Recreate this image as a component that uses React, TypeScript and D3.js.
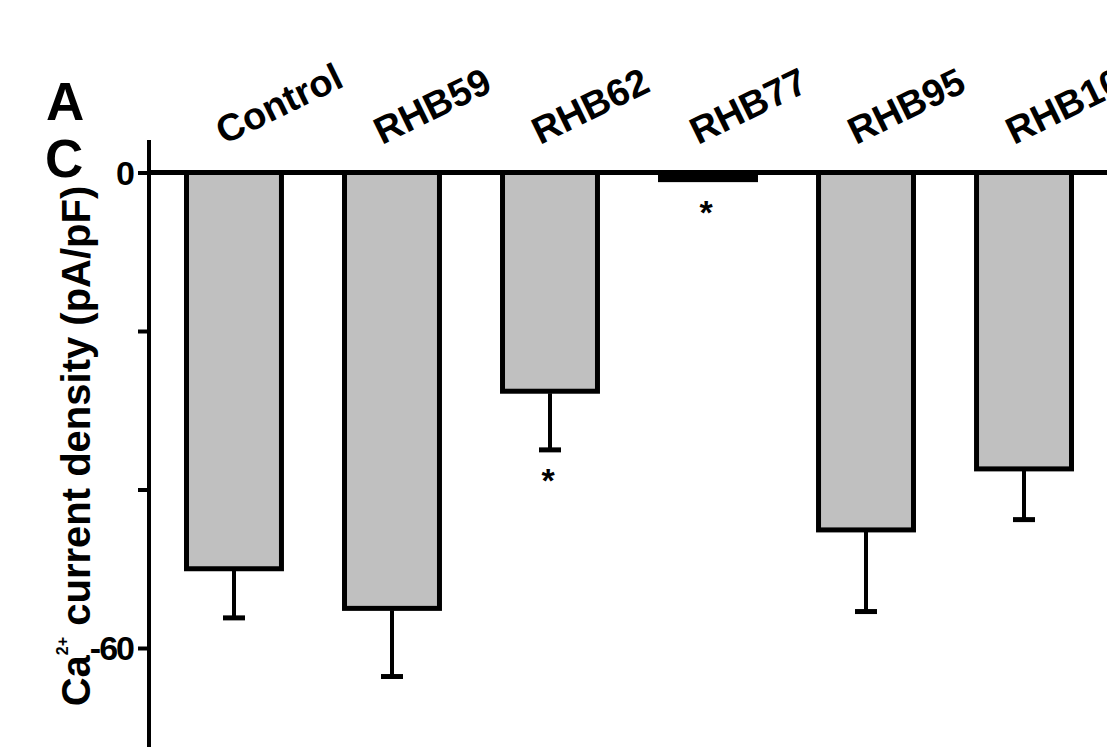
import React, { useEffect, useRef } from "react";
import * as d3 from "d3";

const categories = ["Control", "RHB59", "RHB62", "RHB77", "RHB95", "RHB105"];
const means = [-50.0, -55.0, -27.6, -0.9, -45.1, -37.4];
const errors = [6.2, 8.6, 7.4, 0.3, 10.3, 6.4];
const significant = [false, false, true, true, false, false];
const tickValues = [0, -20, -40, -60, -80];
const tickLabels = ["0", "", "", "-60", ""];

const W = 1107;
const H = 747;
const FONT = "'Liberation Sans', Arial, Helvetica, sans-serif";

const App = () => {
  const ref = useRef<SVGSVGElement>(null);

  useEffect(() => {
    if (!ref.current) return;
    const svg = d3.select(ref.current);
    svg.selectAll("*").remove();

    const axisX = 149;

    // y scale: 0 at the top line, negative values go down
    const y = d3.scaleLinear().domain([0, -60]).range([172.5, 648]);

    const x = d3
      .scaleBand<string>()
      .domain(categories)
      .range([154.9, 1103.1])
      .paddingInner(0.399)
      .paddingOuter(0.2);

    const data = categories.map((c, i) => ({
      name: c,
      mean: means[i],
      err: errors[i],
      star: significant[i],
    }));

    // bars (a very short bar is just its black outline)
    svg
      .append("g")
      .selectAll("rect")
      .data(data)
      .join("rect")
      .attr("x", (d) => x(d.name)!)
      .attr("y", y(0))
      .attr("width", x.bandwidth())
      .attr("height", (d) => y(d.mean) - y(0))
      .attr("fill", (d) => (y(d.mean) - y(0) < 10 ? "#000" : "#c0c0c0"))
      .attr("stroke", "#000")
      .attr("stroke-width", 5);

    // error bars
    const eb = svg.append("g").attr("stroke", "#000");
    eb.selectAll("line.whisker")
      .data(data.filter((d) => d.err > 0.5))
      .join("line")
      .attr("class", "whisker")
      .attr("x1", (d) => x(d.name)! + x.bandwidth() / 2)
      .attr("x2", (d) => x(d.name)! + x.bandwidth() / 2)
      .attr("y1", (d) => y(d.mean) + 2)
      .attr("y2", (d) => y(d.mean - d.err))
      .attr("stroke-width", 4);
    eb.selectAll("line.cap")
      .data(data.filter((d) => d.err > 0.5))
      .join("line")
      .attr("class", "cap")
      .attr("x1", (d) => x(d.name)! + x.bandwidth() / 2 - 11)
      .attr("x2", (d) => x(d.name)! + x.bandwidth() / 2 + 11)
      .attr("y1", (d) => y(d.mean - d.err))
      .attr("y2", (d) => y(d.mean - d.err))
      .attr("stroke-width", 5);

    // significance stars
    svg
      .append("g")
      .selectAll("text")
      .data(data.filter((d) => d.star))
      .join("text")
      .attr("x", (d) => x(d.name)! + x.bandwidth() / 2 - 2)
      .attr("y", (d) => y(d.mean - d.err) + 42)
      .attr("text-anchor", "middle")
      .attr("font-family", FONT)
      .attr("font-weight", "bold")
      .attr("font-size", 34)
      .text("*");

    // zero line across the top
    svg
      .append("line")
      .attr("x1", axisX)
      .attr("x2", W)
      .attr("y1", y(0))
      .attr("y2", y(0))
      .attr("stroke", "#000")
      .attr("stroke-width", 5);

    // y axis
    const yAxis = d3
      .axisLeft(y)
      .tickValues(tickValues)
      .tickFormat((d, i) => tickLabels[i])
      .tickSize(11)
      .tickPadding(5);

    const g = svg
      .append("g")
      .attr("transform", `translate(${axisX},0)`)
      .call(yAxis);
    g.select(".domain").remove();
    g.selectAll(".tick line").attr("stroke", "#000").attr("stroke-width", 4);
    g.selectAll(".tick text")
      .attr("fill", "#000")
      .attr("font-family", FONT)
      .attr("font-weight", "bold")
      .attr("font-size", 34)
      .attr("letter-spacing", -2)
      .attr("dy", "0.35em");

    svg
      .append("line")
      .attr("x1", axisX)
      .attr("x2", axisX)
      .attr("y1", 140)
      .attr("y2", H + 20)
      .attr("stroke", "#000")
      .attr("stroke-width", 4);

    // category labels, tilted
    svg
      .append("g")
      .selectAll("text")
      .data(categories)
      .join("text")
      .attr("transform", (d) => `translate(${x(d)! + x.bandwidth() / 2 - 10},145) rotate(-26)`)
      .attr("font-family", FONT)
      .attr("font-weight", "bold")
      .attr("font-size", 38)
      .text((d) => d);

    // y axis title
    const title = svg
      .append("text")
      .attr("transform", "translate(90,446) rotate(-90)")
      .attr("text-anchor", "middle")
      .attr("font-family", FONT)
      .attr("font-weight", "bold")
      .attr("font-size", 40);
    title.append("tspan").text("Ca");
    title.append("tspan").attr("dy", -22).attr("font-size", 16).text("2+");
    title.append("tspan").attr("dy", 22).text(" current density (pA/pF)");

    // panel letters
    svg
      .append("text")
      .attr("x", 46)
      .attr("y", 120)
      .attr("font-family", FONT)
      .attr("font-weight", "bold")
      .attr("font-size", 53)
      .text("A");
    svg
      .append("text")
      .attr("x", 45)
      .attr("y", 177)
      .attr("font-family", FONT)
      .attr("font-weight", "bold")
      .attr("font-size", 53)
      .text("C");
  }, [ref]);

  return (
    <svg
      ref={ref}
      width={W}
      height={H}
      style={{ position: "absolute", left: 0, top: 0, background: "#fff" }}
    ></svg>
  );
};

export default App;
